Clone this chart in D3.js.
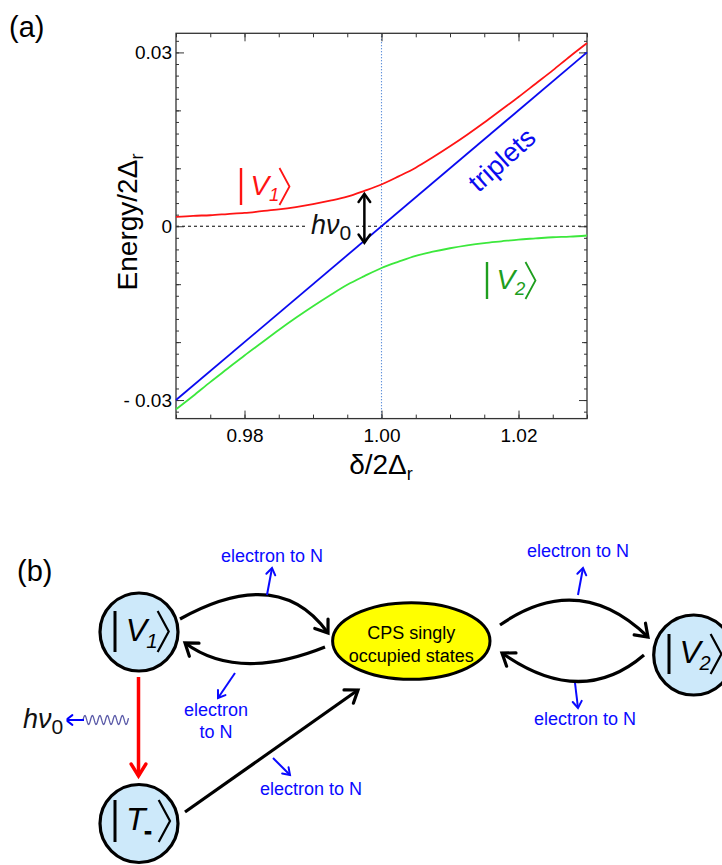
<!DOCTYPE html>
<html>
<head>
<meta charset="utf-8">
<script src="https://cdn.jsdelivr.net/npm/d3@7"></script>
<style>
body { margin: 0; background: #fff; }
svg text { font-family: "Liberation Sans", Arial, sans-serif; }
</style>
</head>
<body>
<svg id="fig" width="722" height="865"></svg>
<script>
/** Panel (a): detuning values δ/2Δr where the curves were read */
var detuning = [0.97, 0.9725, 0.975, 0.9775, 0.98, 0.9825, 0.985, 0.9875, 0.99, 0.9925, 0.995, 0.9975,
                1.00, 1.0025, 1.005, 1.0075, 1.01, 1.0125, 1.015, 1.0175, 1.02, 1.0225, 1.025, 1.0275, 1.03];

/** Energy/2Δr of |V1> (upper branch) */
var energyV1 = [0.0016, 0.0018, 0.0019, 0.0021, 0.0023, 0.0026, 0.0029, 0.0033, 0.0038, 0.0044, 0.0051, 0.0061,
                0.0072, 0.0086, 0.0101, 0.0119, 0.0138, 0.0158, 0.0179, 0.0201, 0.0223, 0.0246, 0.0269, 0.0293, 0.0316];

/** Energy/2Δr of |V2> (lower branch) */
var energyV2 = [-0.0316, -0.0293, -0.0269, -0.0246, -0.0223, -0.0201, -0.0179, -0.0158, -0.0138, -0.0119, -0.0101, -0.0086,
                -0.0072, -0.0061, -0.0051, -0.0044, -0.0038, -0.0033, -0.0029, -0.0026, -0.0023, -0.0021, -0.0019, -0.0018, -0.0016];

/** triplet line, end points */
var tripletDetuning = [0.97, 1.03],
    tripletEnergy = [-0.030, 0.030];

/** ticks */
var yMajorTicks = [-0.03, 0, 0.03],
    yTickLabels = ["- 0.03", "0", "0.03"],
    xMajorTicks = [0.98, 1.00, 1.02],
    xTickLabels = ["0.98", "1.00", "1.02"];

/** where the photon arrow sits */
var photonDetuning = 0.9975;

/** Panel (b): states and transitions */
var states = ["V1", "T-", "CPS", "V2"];
var transitionLabel = "electron to N";

var svg = d3.select("#fig");

// ================= panel (a) =================
var x = d3.scaleLinear().domain([0.97, 1.03]).range([176, 587]);
var y = d3.scaleLinear().domain([-0.0332, 0.0333]).range([418.6, 33.3]);

var pa = svg.append("g");

// zero line and resonance line
pa.append("line")
  .attr("x1", x(0.97)).attr("x2", x(1.03))
  .attr("y1", y(0)).attr("y2", y(0))
  .attr("stroke", "#000").attr("stroke-width", 1).attr("stroke-dasharray", "3,3");
pa.append("line")
  .attr("x1", x(1.0)).attr("x2", x(1.0))
  .attr("y1", y(0.0333)).attr("y2", y(-0.0332))
  .attr("stroke", "#2f6fd0").attr("stroke-width", 1.1).attr("stroke-dasharray", "1,2");

// axes: major, minor ticks on all four sides, pointing in
var yMinor = d3.range(-32, 33, 2).map(function(v){ return v / 1000; });
var yMid = [-0.02, -0.01, 0.01, 0.02];
var xMinor = d3.range(970, 1031, 5).map(function(v){ return v / 1000; });

function addAxis(axis, tx, ty) {
  var g = pa.append("g").attr("transform", "translate(" + tx + "," + ty + ")").call(axis);
  g.select(".domain").remove();
  g.selectAll("line").attr("stroke", "#333");
  return g;
}

addAxis(d3.axisLeft(y).tickValues(yMinor).tickSize(-3).tickFormat(""), x(0.97), 0);
addAxis(d3.axisLeft(y).tickValues(yMid).tickSize(-5).tickFormat(""), x(0.97), 0);
var yAx = addAxis(d3.axisLeft(y).tickValues(yMajorTicks).tickSize(-8).tickPadding(4)
  .tickFormat(function(d, i){ return yTickLabels[i]; }), x(0.97), 0);
addAxis(d3.axisRight(y).tickValues(yMinor).tickSize(-3).tickFormat(""), x(1.03), 0);
addAxis(d3.axisRight(y).tickValues(yMid).tickSize(-5).tickFormat(""), x(1.03), 0);
addAxis(d3.axisRight(y).tickValues(yMajorTicks).tickSize(-8).tickFormat(""), x(1.03), 0);

addAxis(d3.axisBottom(x).tickValues(xMinor).tickSize(-4).tickFormat(""), 0, y(-0.0332));
var xAx = addAxis(d3.axisBottom(x).tickValues(xMajorTicks).tickSize(-8).tickPadding(10)
  .tickFormat(function(d, i){ return xTickLabels[i]; }), 0, y(-0.0332));
addAxis(d3.axisTop(x).tickValues(xMinor).tickSize(-4).tickFormat(""), 0, y(0.0333));
addAxis(d3.axisTop(x).tickValues(xMajorTicks).tickSize(-8).tickFormat(""), 0, y(0.0333));

yAx.selectAll("text").attr("font-size", 19).attr("fill", "#000")
  .attr("font-family", "'Liberation Sans', Arial, sans-serif");
xAx.selectAll("text").attr("font-size", 19).attr("fill", "#000")
  .attr("font-family", "'Liberation Sans', Arial, sans-serif");

// frame
pa.append("rect")
  .attr("x", x(0.97)).attr("y", y(0.0333))
  .attr("width", x(1.03) - x(0.97)).attr("height", y(-0.0332) - y(0.0333))
  .attr("fill", "none").attr("stroke", "#333").attr("stroke-width", 1.3);

// curves
var line = d3.line()
  .x(function(d){ return x(d[0]); })
  .y(function(d){ return y(d[1]); })
  .curve(d3.curveMonotoneX);

pa.append("path").datum(d3.zip(tripletDetuning, tripletEnergy))
  .attr("d", line).attr("fill", "none").attr("stroke", "#0a0af0").attr("stroke-width", 1.8);
pa.append("path").datum(d3.zip(detuning, energyV1))
  .attr("d", line).attr("fill", "none").attr("stroke", "#ff1414").attr("stroke-width", 1.8);
pa.append("path").datum(d3.zip(detuning, energyV2))
  .attr("d", line).attr("fill", "none").attr("stroke", "#3ce83c").attr("stroke-width", 1.8);

// open chevron arrow head
function head(g, tx, ty, ang, len, spread, color, w) {
  var a1 = ang + Math.PI - spread, a2 = ang + Math.PI + spread;
  g.append("path")
    .attr("d", "M" + (tx + len * Math.cos(a1)) + "," + (ty + len * Math.sin(a1)) +
               "L" + tx + "," + ty +
               "L" + (tx + len * Math.cos(a2)) + "," + (ty + len * Math.sin(a2)))
    .attr("fill", "none").attr("stroke", color).attr("stroke-width", w)
    .attr("stroke-linecap", "round").attr("stroke-linejoin", "miter");
}

// ket |X_s>
function ket(g, bx, top, h, letter, sub, color, opts) {
  opts = opts || {};
  var fs = opts.fs || 0.73 * h;
  g.append("line").attr("x1", bx).attr("x2", bx).attr("y1", top).attr("y2", top + h)
    .attr("stroke", color).attr("stroke-width", opts.bw || 3);
  g.append("text").attr("x", bx + 0.26 * h).attr("y", top + 0.72 * h)
    .attr("font-size", fs).attr("font-style", "italic").attr("fill", color).text(letter);
  var s = g.append("text").attr("x", bx + (opts.subX || 0.76) * h).attr("y", top + (opts.subY || 0.9) * h)
    .attr("font-size", 0.5 * h).attr("font-style", "italic").attr("fill", color).text(sub);
  if (opts.subBold) s.attr("font-weight", "bold").attr("font-style", "normal")
    .attr("stroke", color).attr("stroke-width", 1.2);
  g.append("path")
    .attr("d", "M" + (bx + 1.04 * h) + "," + top + "L" + (bx + 1.31 * h) + "," + (top + h / 2) +
               "L" + (bx + 1.04 * h) + "," + (top + h))
    .attr("fill", "none").attr("stroke", color).attr("stroke-width", opts.aw || 2.2);
}

ket(pa, 241, 168, 37, "V", "1", "#ff1414", {bw: 2.4, aw: 1.8, fs: 28});
ket(pa, 487, 262, 37, "V", "2", "#1e9e1e", {bw: 2.4, aw: 1.8, fs: 28});

// triplets label
pa.append("text")
  .attr("transform", "translate(502,160) rotate(-42)")
  .attr("text-anchor", "middle").attr("dominant-baseline", "central")
  .attr("font-size", 27).attr("font-family", "'DejaVu Sans', sans-serif")
  .attr("fill", "#0a0af0").text("triplets");

// photon energy arrow
var ax = x(photonDetuning);
var yTop = y(energyV1[detuning.indexOf(photonDetuning)]) + 3,
    yBot = y(tripletEnergy[0] + (photonDetuning - tripletDetuning[0]) *
             (tripletEnergy[1] - tripletEnergy[0]) / (tripletDetuning[1] - tripletDetuning[0])) + 2;
pa.append("line").attr("x1", ax).attr("x2", ax).attr("y1", yTop).attr("y2", yBot)
  .attr("stroke", "#000").attr("stroke-width", 2.5);
head(pa, ax, yTop, -Math.PI / 2, 10, 0.62, "#000", 2.5);
head(pa, ax, yBot, Math.PI / 2, 10, 0.62, "#000", 2.5);

// h nu_0 label with white backing
function hnu(g, tx, base, fs) {
  g.append("rect").attr("x", tx - 3).attr("y", base - fs * 0.8).attr("width", fs * 1.72).attr("height", fs * 1.05)
    .attr("fill", "#fff");
  var t = g.append("text").attr("x", tx).attr("y", base)
    .attr("font-family", "'Liberation Serif', 'DejaVu Serif', serif").attr("font-size", fs).attr("fill", "#111");
  t.append("tspan").attr("font-style", "italic").text("hν");
  t.append("tspan").attr("font-size", fs * 0.78).attr("dy", fs * 0.22)
    .attr("font-family", "'Liberation Sans', sans-serif").text("0");
}
hnu(pa, 311, 234, 27);

// axis titles
var yt = pa.append("text").attr("transform", "translate(137,222) rotate(-90)")
  .attr("text-anchor", "middle").attr("font-size", 28).attr("fill", "#000");
yt.append("tspan").text("Energy/2Δ");
yt.append("tspan").attr("font-size", 18).attr("dy", 6).text("r");

var xt = pa.append("text").attr("x", 381).attr("y", 474)
  .attr("text-anchor", "middle").attr("font-size", 28).attr("fill", "#000");
xt.append("tspan").text("δ/2Δ");
xt.append("tspan").attr("font-size", 18).attr("dy", 6).text("r");

svg.append("text").attr("x", 9).attr("y", 37).attr("font-size", 29).text("(a)");

// ================= panel (b) =================
var pb = svg.append("g");
svg.append("text").attr("x", 17).attr("y", 581).attr("font-size", 29).text("(b)");

// layout of the states
var node = {
  "V1":  {cx: 139,   cy: 632,   r: 39},
  "T-":  {cx: 139,   cy: 823.5, r: 39},
  "CPS": {cx: 411.3, cy: 641,   rx: 78.7, ry: 38.3},
  "V2":  {cx: 693.7, cy: 655,   r: 40}
};

var circleFill = "#cde9fa";
states.forEach(function(s) {
  var n = node[s];
  if (s === "CPS") {
    pb.append("ellipse").attr("cx", n.cx).attr("cy", n.cy).attr("rx", n.rx).attr("ry", n.ry)
      .attr("fill", "#ffff00").attr("stroke", "#000").attr("stroke-width", 3);
  } else {
    pb.append("circle").attr("cx", n.cx).attr("cy", n.cy).attr("r", n.r)
      .attr("fill", circleFill).attr("stroke", "#000").attr("stroke-width", 3.2);
  }
});

pb.append("text").attr("x", node.CPS.cx).attr("y", 639).attr("text-anchor", "middle")
  .attr("font-size", 18).text("CPS singly");
pb.append("text").attr("x", node.CPS.cx).attr("y", 661.5).attr("text-anchor", "middle")
  .attr("font-size", 18).text("occupied states");

ket(pb, 115, 611, 41, "V", "1", "#000", {fs: 32});
ket(pb, 115, 800, 42, "T", "-", "#000", {fs: 32, subBold: true, subX: 0.7, subY: 0.9});
ket(pb, 669, 634, 40, "V", "2", "#000", {fs: 32});

// curved transitions: start, control, end
var arcs = [
  [[180, 619], [279, 564], [328, 633]],
  [[325, 647], [238, 682], [185, 643]],
  [[500, 625], [579, 570], [648, 637]],
  [[644, 655], [581, 709], [502, 653]]
];
arcs.forEach(function(a) {
  pb.append("path")
    .attr("d", "M" + a[0] + "Q" + a[1] + " " + a[2])
    .attr("fill", "none").attr("stroke", "#000").attr("stroke-width", 3.2);
  head(pb, a[2][0], a[2][1], Math.atan2(a[2][1] - a[1][1], a[2][0] - a[1][0]), 14, 0.62, "#000", 3.2);
});

// straight transition T- -> CPS
pb.append("line").attr("x1", 185).attr("y1", 812).attr("x2", 358).attr("y2", 690)
  .attr("stroke", "#000").attr("stroke-width", 3.2);
head(pb, 358, 690, Math.atan2(690 - 812, 358 - 185), 14, 0.62, "#000", 3.2);

// red radiative decay V1 -> T-
pb.append("line").attr("x1", 138.5).attr("y1", 677).attr("x2", 138.5).attr("y2", 776)
  .attr("stroke", "#ff0000").attr("stroke-width", 3.5);
head(pb, 138.5, 776, Math.PI / 2, 14, 0.55, "#ff0000", 3.5);

// emitted photon: wavy line and arrow
var wave = d3.range(0, 46, 0.5).map(function(t) {
  return [83 + t, 720 - 4.5 * Math.sin(t / 7.5 * 2 * Math.PI)];
});
pb.append("path").attr("d", d3.line()(wave)).attr("fill", "none")
  .attr("stroke", "#5a5aa8").attr("stroke-width", 1.3);
pb.append("line").attr("x1", 84).attr("y1", 720).attr("x2", 66).attr("y2", 720)
  .attr("stroke", "#0000ff").attr("stroke-width", 2);
head(pb, 66, 720, Math.PI, 8, 0.65, "#0000ff", 2);
hnu(pb, 23, 728, 27);

// blue "electron to N" arrows and labels
var blue = "#0a0aff";
var leaks = [
  {from: [267, 595], to: [272, 568], label: [transitionLabel], lx: 272, ly: 562},
  {from: [235, 673], to: [218, 698], label: ["electron", "to N"], lx: 216, ly: 716},
  {from: [273, 758], to: [290, 775], label: [transitionLabel], lx: 311, ly: 795},
  {from: [578, 595], to: [583, 568], label: [transitionLabel], lx: 578, ly: 557},
  {from: [575, 683], to: [578, 708], label: [transitionLabel], lx: 585, ly: 725}
];
leaks.forEach(function(l) {
  pb.append("line").attr("x1", l.from[0]).attr("y1", l.from[1]).attr("x2", l.to[0]).attr("y2", l.to[1])
    .attr("stroke", blue).attr("stroke-width", 2);
  head(pb, l.to[0], l.to[1], Math.atan2(l.to[1] - l.from[1], l.to[0] - l.from[0]), 8, 0.6, blue, 2);
  l.label.forEach(function(s, i) {
    pb.append("text").attr("x", l.lx).attr("y", l.ly + i * 22).attr("text-anchor", "middle")
      .attr("font-size", 18).attr("fill", blue).text(s);
  });
});
</script>
</body>
</html>
